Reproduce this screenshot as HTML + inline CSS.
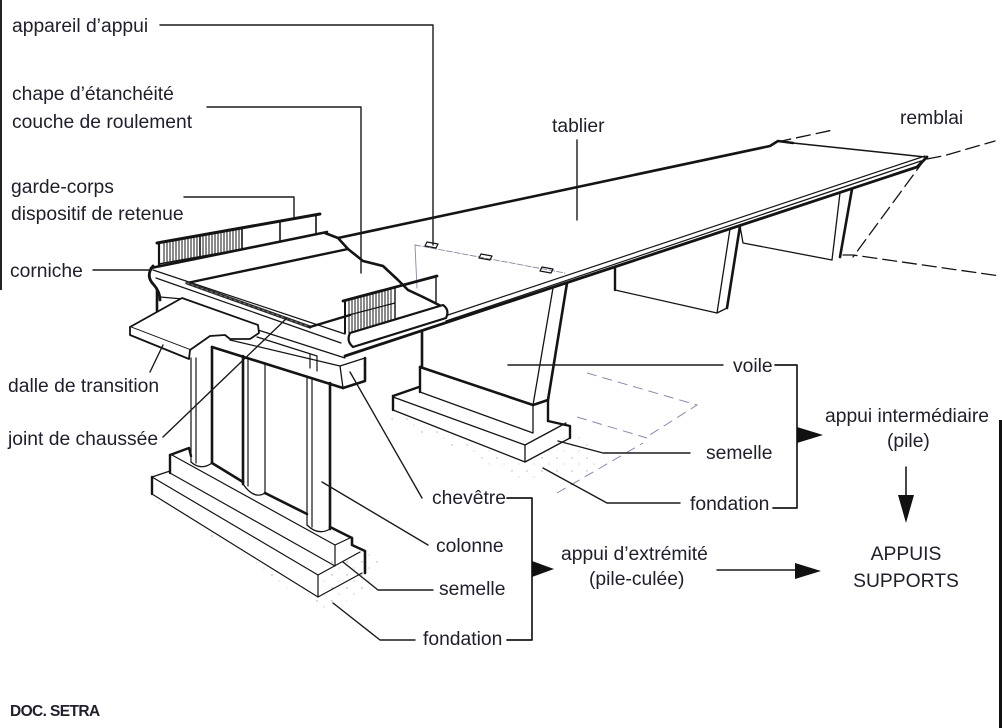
<!DOCTYPE html>
<html><head><meta charset="utf-8">
<style>
html,body{margin:0;padding:0;background:#fff;}
body{width:1002px;height:728px;overflow:hidden;position:relative;}
svg{position:absolute;left:0;top:0;}
text{font-family:"Liberation Sans",sans-serif;fill:#20202c;font-size:19.3px;}
</style></head><body>
<svg width="1002" height="728" viewBox="0 0 1002 728">
<defs>
<pattern id="dots" width="15" height="13" patternUnits="userSpaceOnUse">
<circle cx="2" cy="3" r="0.7" fill="#556"/>
<circle cx="9" cy="9" r="0.6" fill="#778"/>
</pattern>
</defs>

<!-- edge bars -->
<rect x="0" y="0" width="2" height="290" fill="#222"/>
<rect x="999" y="420" width="3" height="308" fill="#111"/>

<!-- stipple -->
<polygon points="135,480 160,505 250,560 320,612 372,590 378,560 362,548 330,560 318,600 152,497" fill="url(#dots)" opacity="0.5"/>
<polygon points="380,400 392,420 470,455 520,480 600,470 580,430 560,440 525,465 395,412" fill="url(#dots)" opacity="0.45"/>

<!-- ground dashed (pier 1) -->
<g stroke="#8a8aaa" stroke-width="1" fill="none" stroke-dasharray="10 6">
<path d="M587,373 L697,405 L645,438"/>
<path d="M577,417 L647,438"/>
<path d="M557,493 L643,443"/>
</g>

<g stroke="#141414" fill="none" stroke-linecap="round" stroke-linejoin="round">

<!-- bearings / dashed under deck -->
<path d="M415,245 L565,273" stroke="#8a8aa0" stroke-width="0.9" stroke-dasharray="6 2"/>
<path d="M415,245 L417,288" stroke="#8a8aa0" stroke-width="0.9"/>
<path d="M427,242 L438,244 L436,248 L425,246 Z" stroke-width="1.2"/>
<path d="M481,254 L492,256 L490,260 L479,258 Z" stroke-width="1.2"/>
<path d="M542,267 L553,269 L551,273 L540,271 Z" stroke-width="1.2"/>

<!-- span deck -->
<path d="M338,238 L770,146 L778,141 L793,143" stroke-width="2.6"/>
<path d="M793,143 L925,157" stroke-width="1.5"/>
<path d="M445,316 L925,156" stroke-width="1.2"/>
<path d="M446,321 L921,161" stroke-width="1.2"/>
<path d="M345,356 L917,167 L927,157" stroke-width="2.8"/>

<!-- remblai dashed -->
<g stroke-width="1.3" stroke-dasharray="14 6">
<path d="M925,159 L853,257"/>
<path d="M843,255 L853,255 L1000,276"/>
<path d="M927,159 L943,156 L995,141"/>
<path d="M777,142 L833,130"/>
</g>

<!-- pier 2 & 3 -->
<path d="M615,268 V290" stroke-width="2.4"/>
<path d="M615,290 L717,313 L727,308" stroke-width="1.3"/>
<path d="M730,229 L717,313" stroke-width="1.3"/>
<path d="M740,226 L727,308" stroke-width="2.6"/>
<path d="M740,226 L743,243 L832,260" stroke-width="1.3"/>
<path d="M840,193 L832,260" stroke-width="1.3"/>
<path d="M852,189 L840,257" stroke-width="2.6"/>

<!-- pier 1 (voile) -->
<path d="M553,288 L533,405" stroke-width="1.3"/>
<path d="M567,283 L548,400" stroke-width="2.6"/>
<path d="M422,332 V367" stroke-width="2.6"/>
<path d="M420,367 L533,405 L548,400" stroke-width="2.6"/>
<path d="M420,367 V392" stroke-width="2.4"/>
<path d="M420,392 L533,433 V405" stroke-width="1.3"/>
<path d="M548,400 V421" stroke-width="2.4"/>
<path d="M393,396 L419,387" stroke-width="2.4"/>
<path d="M393,396 V410" stroke-width="2.4"/>
<path d="M393,397 L525,445 L566,423" stroke-width="1.3"/>
<path d="M393,410 L525,462 L570,438" stroke-width="1.3"/>
<path d="M525,445 V462" stroke-width="1.3"/>
<path d="M548,421 L570,426 V438" stroke-width="2.4"/>

<!-- far garde-corps -->
<path d="M157,243 L320,214" stroke-width="3"/>
<path d="M151,268 L327,232" stroke-width="2.6"/>
<path d="M159,264 L243,249" stroke-width="1.5"/>
<path d="M159,243 V266" stroke-width="2.2"/>
<path d="M200,236 V258 M242,228 V249 M280,221 V242 M316,215 V234" stroke-width="1.6"/>
<path stroke-width="1" d="M164,242V263 M167,241V263 M170,241V262 M173,240V261 M176,240V261 M179,239V260 M182,238V260 M185,238V259 M188,237V259 M191,237V258 M194,236V258 M197,236V257 M203,235V256 M206,234V256 M209,234V255 M212,233V254 M215,233V254 M218,232V253 M221,232V253 M224,231V252 M227,230V252 M230,230V251 M233,229V251 M236,229V250 M239,228V250"/>

<!-- cut line -->
<path d="M325,233 L338,238 L348,249 L363,261 L383,266 L398,280 L408,290 L423,297 L443,307" stroke-width="2.6"/>

<!-- abutment deck -->
<path d="M153,266 Q145,276 154,285 Q160,292 160,300" stroke-width="2.8"/>
<path d="M157,290 V311" stroke-width="2.6"/>
<path d="M153,270 L345,334" stroke-width="1.2"/>
<path d="M156,278 L341,343" stroke-width="1.2"/>
<path d="M160,297 L183,299" stroke-width="1.2"/>
<path d="M187,283 L348,249" stroke-width="2.4"/>
<path d="M187,283 L310,327" stroke-width="3.2" stroke="#2a2a2a"/>
<path d="M187,283 L310,327" stroke-width="1" stroke="#777" stroke-dasharray="2 3"/>
<path d="M310,327 L350,315" stroke-width="2.4"/>

<!-- near cornice block + garde-corps -->
<path d="M350,333 L443,305 Q450,310 446,318 L353,347 Q346,341 350,333 Z" fill="#fff" stroke-width="2.2"/>
<path d="M343,301 L437,276" stroke-width="2.8"/>
<path d="M345,301 V333" stroke-width="2"/>
<path d="M395,288 V318 M436,277 V303" stroke-width="1.4"/>
<path d="M345,316 L395,303" stroke-width="1.2"/>
<path stroke-width="1" d="M349,299V333 M352,299V332 M355,298V331 M358,297V330 M361,296V330 M364,295V329 M367,295V328 M370,294V327 M373,293V326 M376,292V325 M379,291V324 M382,291V323 M385,290V322 M388,289V321 M391,288V320"/>

<!-- cap beam & deck near edge over abutment -->
<path d="M258,330 L345,358" stroke-width="1.2"/>
<path d="M230,340 L340,366" stroke-width="1.2"/>
<path d="M212,347 L343,388" stroke-width="2.6"/>
<path d="M340,366 L365,358 V381 L343,388 Z" fill="#fff" stroke-width="1.3"/>
<path d="M365,358 V381 L343,388" stroke-width="2.6"/>
<path d="M257,337 L317,356 V371 M310,354 V368" stroke-width="1.2"/>

<!-- dalle de transition -->
<path d="M130,327 L182,298 L258,325 L259,333 L250,339 L230,339 L225,335 L210,336 L190,350 Z" fill="#fff" stroke-width="1.8"/>
<path d="M130,327 V335 L189,359 L190,350" fill="#fff" stroke-width="1.8"/>

<!-- columns -->
<path d="M191,358 V462 M196,358 V463" stroke-width="1.2"/>
<path d="M212,347 V463" stroke-width="2.6"/>
<path d="M191,462 Q201,471 212,463" stroke-width="1.3"/>
<path d="M243,356 V484" stroke-width="2.6"/>
<path d="M248,358 V486 M265,363 V494" stroke-width="1.2"/>
<path d="M243,484 Q254,500 265,493" stroke-width="1.3"/>
<path d="M307,376 V525 M312,378 V527" stroke-width="1.2"/>
<path d="M330,383 V529" stroke-width="2.6"/>
<path d="M307,525 Q318,536 330,529" stroke-width="1.3"/>

<!-- back thick edges -->
<path d="M212,463 L243,482 M265,493 L307,514" stroke-width="2.6"/>
<path d="M330,527 L352,538 L352,545 L365,551 V573" stroke-width="2.6"/>
<path d="M170,455 L189,448 L191,456" stroke-width="2.4"/>

<!-- footing -->
<path d="M170,455 V473" stroke-width="2.4"/>
<path d="M172,455 L335,545 L352,537" stroke-width="1.2"/>
<path d="M170,473 L335,566 V545" stroke-width="1.2"/>
<path d="M152,477 V494" stroke-width="2.4"/>
<path d="M152,477 L170,471" stroke-width="1.2"/>
<path d="M152,477 L318,575 L360,552" stroke-width="1.2"/>
<path d="M152,494 L318,597 L362,573" stroke-width="1.2"/>
<path d="M318,575 V597" stroke-width="1.2"/>

<!-- leaders -->
<g stroke-width="1.4" stroke="#1a1a1a">
<path d="M160,25 H433 V245"/>
<path d="M207,107 H361 V273"/>
<path d="M184,197 H294 V218"/>
<path d="M93,270 H150"/>
<path d="M150,372 L163,345"/>
<path d="M163,437 L287,318"/>
<path d="M577,140 V220"/>
<path d="M422,498 L350,372"/>
<path d="M428,545 L322,482"/>
<path d="M433,590 H378 L343,562"/>
<path d="M415,640 H380 L333,603"/>
<path d="M508,365 H723"/>
<path d="M558,441 L603,453 H690"/>
<path d="M543,468 L607,503 H680"/>
<path d="M775,365 H797 V508 H773" stroke-width="1.7"/>
<path d="M507,498 H532 V640 H507" stroke-width="1.7"/>
<path d="M717,570 H800"/>
<path d="M906,467 V500" stroke-width="1.6"/>
</g>
</g>

<!-- arrowheads -->
<g fill="#111">
<polygon points="797,427 823,435 797,443"/>
<polygon points="532,561 554,569 532,577"/>
<polygon points="795,563 821,571 795,579"/>
<polygon points="898,495 906,523 914,495"/>
</g>

<!-- labels -->
<text x="12" y="32">appareil d’appui</text>
<text x="12" y="100">chape d’étanchéité</text>
<text x="12" y="128">couche de roulement</text>
<text x="11" y="193">garde-corps</text>
<text x="11" y="220">dispositif de retenue</text>
<text x="10" y="277">corniche</text>
<text x="8" y="392">dalle de transition</text>
<text x="8" y="445">joint de chaussée</text>
<text x="552" y="132">tablier</text>
<text x="900" y="124">remblai</text>
<text x="733" y="372">voile</text>
<text x="706" y="459">semelle</text>
<text x="690" y="510">fondation</text>
<text x="825" y="422">appui intermédiaire</text>
<text x="887" y="447">(pile)</text>
<text x="906" y="560" text-anchor="middle">APPUIS</text>
<text x="906" y="587" text-anchor="middle">SUPPORTS</text>
<text x="561" y="560">appui d’extrémité</text>
<text x="589" y="585">(pile-culée)</text>
<text x="432" y="504">chevêtre</text>
<text x="436" y="552">colonne</text>
<text x="439" y="595">semelle</text>
<text x="423" y="645">fondation</text>
<text x="10" y="716" style="font-size:15.5px;font-weight:bold;letter-spacing:-0.6px">DOC. SETRA</text>
</svg>
</body></html>
